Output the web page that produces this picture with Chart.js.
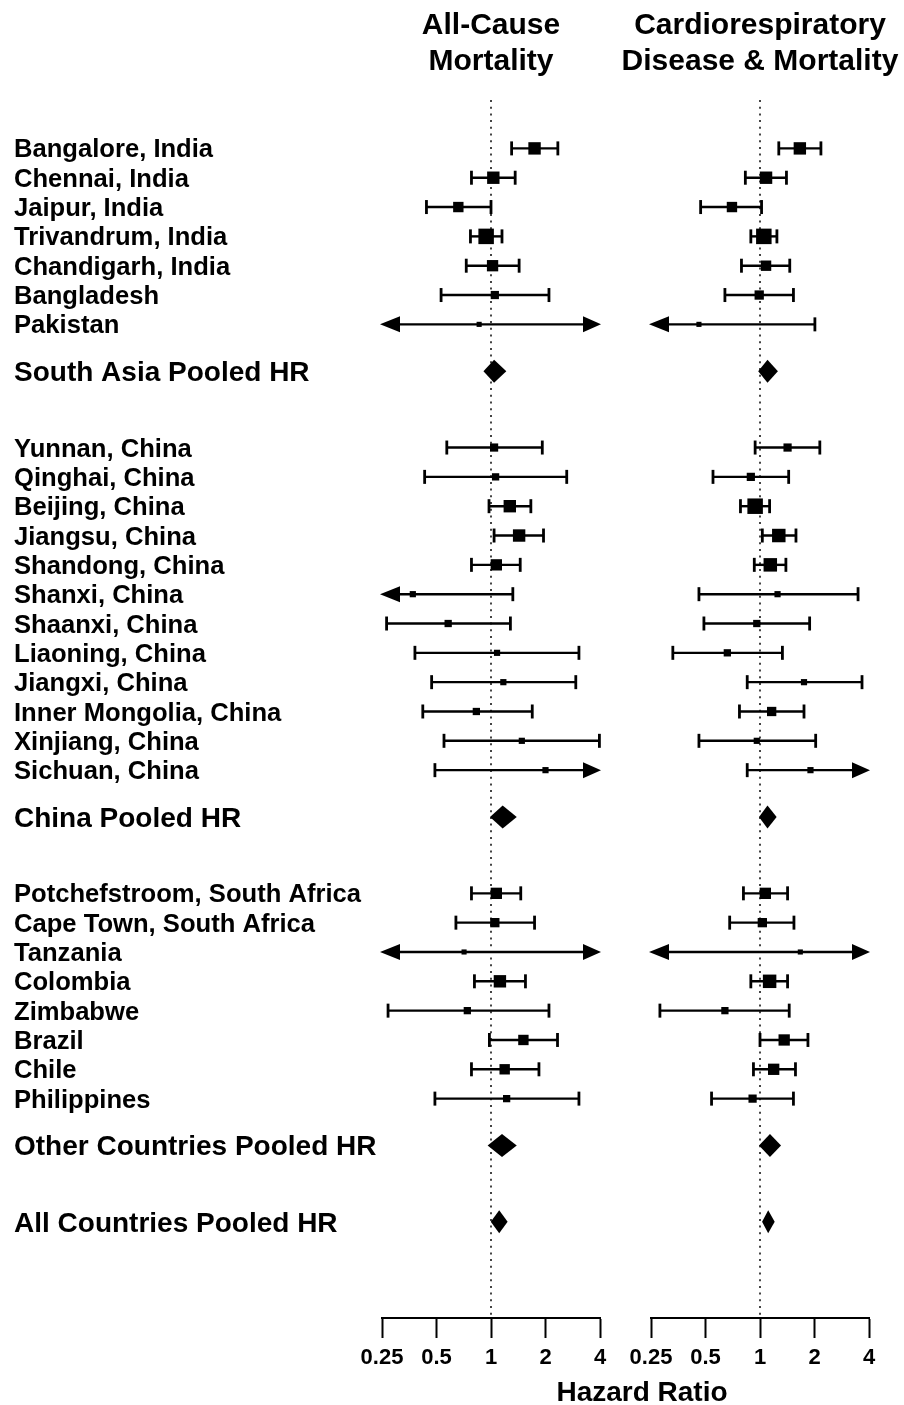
<!DOCTYPE html>
<html>
<head>
<meta charset="utf-8">
<script src="https://cdn.jsdelivr.net/npm/chart.js@4.4.1/dist/chart.umd.min.js"></script>
<style>
  body { margin: 0; background: #fff; }
  #wrap { position: relative; width: 904px; height: 1405px; font-family: "Liberation Sans", Arial, sans-serif; color: #000; }
  canvas { position: absolute; top: 0; }
  .head { position: absolute; text-align: center; font-weight: bold; font-size: 30px; line-height: 36px; }
</style>
</head>
<body>
<div id="wrap">
  <canvas id="allCause" width="620" height="1405" style="left:0"></canvas>
  <canvas id="cardio" width="284" height="1405" style="left:620px"></canvas>
  <div class="head" style="left:341px; width:300px; top:6px;">All-Cause<br>Mortality</div>
  <div class="head" style="left:600px; width:320px; top:6px;">Cardiorespiratory<br>Disease &amp; Mortality</div>
  <div class="head" style="left:492px; width:300px; top:1375px; font-size:28px; line-height:34px;">Hazard Ratio</div>
</div>
<script>
const rowLabels = [
  "Bangalore, India", "Chennai, India", "Jaipur, India", "Trivandrum, India", "Chandigarh, India",
  "Bangladesh", "Pakistan", "South Asia Pooled HR",
  "Yunnan, China", "Qinghai, China", "Beijing, China", "Jiangsu, China", "Shandong, China",
  "Shanxi, China", "Shaanxi, China", "Liaoning, China", "Jiangxi, China", "Inner Mongolia, China",
  "Xinjiang, China", "Sichuan, China", "China Pooled HR",
  "Potchefstroom, South Africa", "Cape Town, South Africa", "Tanzania", "Colombia", "Zimbabwe",
  "Brazil", "Chile", "Philippines", "Other Countries Pooled HR", "All Countries Pooled HR"
];

const hrTicks = [0.25, 0.5, 1, 2, 4];

// values below 0.25 or above 4 are off the axis and get drawn as arrows
const allCauseHR = [1.74, 1.03, 0.66, 0.94, 1.02, 1.05, 0.86, 1.04,
  1.04, 1.06, 1.27, 1.43, 1.07, 0.37, 0.58, 1.08, 1.17, 0.83, 1.48, 2.0, 1.16,
  1.07, 1.05, 0.71, 1.12, 0.74, 1.51, 1.19, 1.22, 1.15, 1.11];
const allCauseLo = [1.30, 0.78, 0.44, 0.77, 0.73, 0.53, 0.2, 0.92,
  0.57, 0.43, 0.975, 1.04, 0.78, 0.2, 0.265, 0.38, 0.47, 0.42, 0.55, 0.49, 1.0,
  0.78, 0.64, 0.2, 0.81, 0.27, 0.98, 0.78, 0.49, 0.97, 1.01];
const allCauseHi = [2.34, 1.36, 1.00, 1.15, 1.43, 2.09, 5, 1.20,
  1.92, 2.62, 1.66, 1.95, 1.45, 1.32, 1.28, 3.06, 2.94, 1.69, 3.97, 5, 1.37,
  1.46, 1.74, 5, 1.55, 2.09, 2.33, 1.84, 3.06, 1.37, 1.22];
const allCauseWeight = [0.8, 0.8, 0.67, 1, 0.73, 0.53, 0.33, null,
  0.53, 0.47, 0.8, 0.8, 0.73, 0.4, 0.47, 0.4, 0.4, 0.47, 0.4, 0.4, null,
  0.73, 0.6, 0.33, 0.8, 0.47, 0.67, 0.67, 0.47, null, null];

const cardioHR = [1.66, 1.08, 0.70, 1.05, 1.08, 0.99, 0.46, 1.10,
  1.42, 0.89, 0.94, 1.27, 1.14, 1.25, 0.96, 0.66, 1.75, 1.16, 0.96, 1.90, 1.10,
  1.07, 1.03, 1.67, 1.13, 0.64, 1.36, 1.19, 0.91, 1.135, 1.11];
const cardioLo = [1.27, 0.83, 0.47, 0.89, 0.79, 0.64, 0.2, 0.99,
  0.94, 0.55, 0.78, 1.03, 0.93, 0.46, 0.49, 0.33, 0.85, 0.77, 0.46, 0.85, 1.0,
  0.81, 0.68, 0.2, 0.89, 0.28, 1.0, 0.92, 0.54, 1.0, 1.04];
const cardioHi = [2.17, 1.40, 1.02, 1.24, 1.46, 1.53, 2.01, 1.24,
  2.14, 1.44, 1.13, 1.58, 1.39, 3.48, 1.88, 1.33, 3.66, 1.75, 2.03, 5, 1.22,
  1.42, 1.54, 5, 1.42, 1.45, 1.84, 1.57, 1.53, 1.29, 1.19];
const cardioWeight = [0.8, 0.8, 0.67, 1, 0.67, 0.6, 0.33, null,
  0.53, 0.53, 1, 0.87, 0.87, 0.4, 0.47, 0.47, 0.4, 0.6, 0.4, 0.4, null,
  0.73, 0.6, 0.33, 0.87, 0.47, 0.73, 0.73, 0.53, null, null];

const FONT = '"Liberation Sans", Arial, sans-serif';
const isPooled = lab => lab.endsWith('Pooled HR');

// vertical slots: 1 between sites, 1.6 before a pooled row, 2.6 after one
const rowPos = [];
let pos = 0;
rowLabels.forEach((lab, i) => {
  if (i > 0) pos += isPooled(rowLabels[i - 1]) ? 2.6 : (isPooled(lab) ? 1.6 : 1);
  rowPos.push(pos);
});

const maxBox = 15.5;

function forestPlugin(hr, lo, hi) {
  return {
    id: 'forest',
    beforeDatasetsDraw(chart) {
      const {ctx, chartArea} = chart;
      const x = chart.scales.x, y = chart.scales.y;
      const one = x.getPixelForValue(1);
      ctx.save();
      ctx.strokeStyle = '#444';
      ctx.lineWidth = 2;
      ctx.setLineDash([2, 4.7]);
      ctx.beginPath();
      ctx.moveTo(one, chartArea.top);
      ctx.lineTo(one, chartArea.bottom);
      ctx.stroke();
      ctx.setLineDash([]);
      ctx.strokeStyle = '#000';
      ctx.fillStyle = '#000';

      rowLabels.forEach((lab, i) => {
        const py = y.getPixelForValue(rowPos[i]);
        if (isPooled(lab)) {
          const xl = x.getPixelForValue(lo[i]);
          const xm = x.getPixelForValue(hr[i]);
          const xr = x.getPixelForValue(hi[i]);
          ctx.beginPath();
          ctx.moveTo(xl - 1, py);
          ctx.lineTo(xm, py - 11.5);
          ctx.lineTo(xr + 1, py);
          ctx.lineTo(xm, py + 11.5);
          ctx.closePath();
          ctx.fill();
          return;
        }
        const offLeft = lo[i] < x.min, offRight = hi[i] > x.max;
        const xl = offLeft ? x.left + 16 : x.getPixelForValue(lo[i]);
        const xr = offRight ? x.right - 16 : x.getPixelForValue(hi[i]);
        ctx.lineWidth = 2.4;
        ctx.beginPath();
        ctx.moveTo(xl, py);
        ctx.lineTo(xr, py);
        ctx.stroke();
        ctx.lineWidth = 2.8;
        if (offLeft) {
          ctx.beginPath();
          ctx.moveTo(x.left - 2, py);
          ctx.lineTo(x.left + 18, py - 8);
          ctx.lineTo(x.left + 18, py + 8);
          ctx.closePath();
          ctx.fill();
        } else {
          ctx.beginPath();
          ctx.moveTo(xl, py - 7);
          ctx.lineTo(xl, py + 7);
          ctx.stroke();
        }
        if (offRight) {
          ctx.beginPath();
          ctx.moveTo(x.right + 1, py);
          ctx.lineTo(x.right - 17, py - 8);
          ctx.lineTo(x.right - 17, py + 8);
          ctx.closePath();
          ctx.fill();
        } else {
          ctx.beginPath();
          ctx.moveTo(xr, py - 7);
          ctx.lineTo(xr, py + 7);
          ctx.stroke();
        }
      });
      ctx.restore();
    }
  };
}

function makeChart(id, hr, lo, hi, weight, withLabels, padding) {
  const pts = [], radii = [];
  rowLabels.forEach((lab, i) => {
    if (weight[i] == null) return;
    pts.push({x: hr[i], y: rowPos[i]});
    radii.push(maxBox * weight[i] / Math.SQRT2);
  });
  return new Chart(document.getElementById(id), {
    type: 'scatter',
    data: {
      datasets: [{
        data: pts,
        pointStyle: 'rect',
        pointRadius: radii,
        pointHoverRadius: radii,
        backgroundColor: '#000',
        borderWidth: 0
      }]
    },
    options: {
      responsive: false,
      animation: false,
      layout: {padding: padding},
      plugins: {legend: {display: false}, tooltip: {enabled: false}},
      scales: {
        x: {
          type: 'logarithmic',
          min: 0.25,
          max: 4,
          afterBuildTicks: s => { s.ticks = hrTicks.map(v => ({value: v})); },
          afterFit: s => { s.height = 87; },
          ticks: {
            autoSkip: false,
            maxRotation: 0,
            padding: 7,
            color: '#000',
            font: {family: FONT, size: 22, weight: 'bold'},
            callback: v => String(v)
          },
          grid: {drawOnChartArea: false, drawTicks: true, tickLength: 20, tickWidth: 2, tickColor: '#000'},
          border: {display: true, color: '#000', width: 2}
        },
        y: {
          type: 'linear',
          reverse: true,
          min: -1.65,
          max: 39.88,
          display: withLabels,
          afterBuildTicks: s => { s.ticks = rowPos.map(v => ({value: v})); },
          afterFit: s => { if (withLabels) s.width = 368; },
          ticks: {
            autoSkip: false,
            crossAlign: 'far',
            padding: 0,
            labelOffset: 2,
            color: '#000',
            font: c => ({family: FONT, weight: 'bold', lineHeight: 1,
              size: isPooled(rowLabels[c.index] || '') ? 28 : 25.6}),
            callback: (v, i) => rowLabels[i]
          },
          grid: {display: false},
          border: {display: false}
        }
      }
    },
    plugins: [forestPlugin(hr, lo, hi)]
  });
}

makeChart('allCause', allCauseHR, allCauseLo, allCauseHi, allCauseWeight, true,
  {top: 100, left: 14, right: 20, bottom: 0});
makeChart('cardio', cardioHR, cardioLo, cardioHi, cardioWeight, false,
  {top: 100, left: 31, right: 35, bottom: 0});
</script>
</body>
</html>
